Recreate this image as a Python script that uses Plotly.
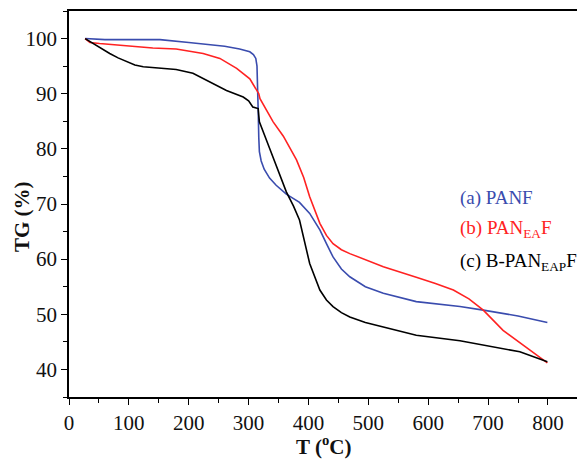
import plotly.graph_objects as go

# Temperature (°C) and TG (%)
panf_T = [27, 60, 100, 152, 200, 224, 260, 285, 302, 308, 312, 314, 315, 316, 317, 318, 321, 326, 335, 346, 363, 375, 385, 402, 419, 430, 441, 455, 469, 495, 525, 580, 653, 692, 750, 799]
panf_TG = [100, 99.8, 99.8, 99.8, 99.3, 99.0, 98.6, 98.1, 97.6, 97.1, 96.4, 95.0, 92.0, 87.0, 82.0, 79.5, 77.8, 76.3, 74.7, 73.4, 71.8, 71.0, 70.3, 68.3, 65.3, 62.8, 60.4, 58.2, 56.8, 55.0, 53.8, 52.3, 51.4, 50.75, 49.7, 48.5]

pan_ea_T = [27, 35, 51, 96, 140, 179, 224, 252, 280, 302, 317, 319, 341, 358, 380, 392, 402, 419, 430, 441, 455, 469, 525, 580, 612, 642, 668, 692, 725, 770, 799]
pan_ea_TG = [100, 99.3, 99.1, 98.7, 98.3, 98.1, 97.3, 96.4, 94.6, 92.7, 90.0, 89.1, 84.9, 82.3, 78.0, 74.8, 71.3, 66.5, 64.3, 62.8, 61.7, 61.0, 58.6, 56.7, 55.6, 54.4, 52.8, 50.75, 47.1, 43.5, 41.2]

b_pan_T = [27, 40, 55, 68, 82, 96, 110, 124, 152, 179, 207, 235, 263, 291, 300, 307, 316, 317, 318, 335, 352, 363, 375, 385, 402, 419, 430, 441, 455, 469, 495, 525, 580, 653, 692, 753, 799]
b_pan_TG = [100, 99.1, 98.2, 97.3, 96.5, 95.8, 95.2, 94.9, 94.7, 94.4, 93.7, 92.1, 90.6, 89.4, 88.7, 87.6, 87.3, 86.0, 84.9, 80.1, 75.2, 72.2, 69.6, 67.1, 59.2, 54.4, 52.6, 51.4, 50.3, 49.5, 48.5, 47.7, 46.2, 45.2, 44.4, 43.2, 41.4]

x_ticks = [0, 100, 200, 300, 400, 500, 600, 700, 800]
y_ticks = [40, 50, 60, 70, 80, 90, 100]

BLUE = "#3a4cae"
RED = "#ff2222"
BLACK = "#000000"
FONT = "Liberation Serif"

fig = go.Figure()
fig.add_trace(go.Scatter(x=panf_T, y=panf_TG, mode="lines", line=dict(color=BLUE, width=1.6), name="PANF"))
fig.add_trace(go.Scatter(x=pan_ea_T, y=pan_ea_TG, mode="lines", line=dict(color=RED, width=1.6), name="PANEAF"))
fig.add_trace(go.Scatter(x=b_pan_T, y=b_pan_TG, mode="lines", line=dict(color=BLACK, width=1.6), name="B-PANEAPF"))

axis_common = dict(showline=True, linecolor="black", linewidth=1.6, mirror=True,
                   ticks="outside", tickcolor="black", tickwidth=1.4, ticklen=6,
                   showgrid=False, zeroline=False, automargin=False,
                   tickfont=dict(family=FONT, size=21, color="#111"))

fig.update_xaxes(range=[0, 848.5], tickvals=x_ticks,
                 minor=dict(dtick=50, ticks="outside", ticklen=4, tickcolor="black", tickwidth=1.4),
                 **axis_common)
fig.update_yaxes(range=[35, 105], tickvals=y_ticks,
                 minor=dict(dtick=5, ticks="outside", ticklen=4, tickcolor="black", tickwidth=1.4),
                 **axis_common)

annotations = [
    dict(text="<b>TG (%)</b>", x=22, y=217, textangle=-90),
    dict(text="<b>T (<sup>o</sup>C)</b>", x=323, y=446),
]
ann = []
for a in annotations:
    ann.append(dict(text=a["text"], xref="paper", yref="paper",
                    x=(a["x"] - 69) / 508, y=(462 - 64.5 - a["y"]) / 387,
                    showarrow=False, textangle=a.get("textangle", 0),
                    font=dict(family=FONT, size=21, color="#111"),
                    xanchor="center", yanchor="middle"))

legend_items = [("(a) PANF", BLUE, 198), ("(b) PAN<sub>EA</sub>F", RED, 229), ("(c) B-PAN<sub>EAP</sub>F", BLACK, 262)]
for txt, col, ypx in legend_items:
    ann.append(dict(text=txt, xref="paper", yref="paper",
                    x=(458 - 69) / 508, y=(462 - 64.5 - ypx) / 387,
                    showarrow=False, xanchor="left", yanchor="middle",
                    font=dict(family=FONT, size=19, color=col)))

fig.update_layout(width=577, height=462, margin=dict(l=69, r=0, t=10.5, b=64.5, autoexpand=False),
                  plot_bgcolor="white", paper_bgcolor="white", showlegend=False,
                  annotations=ann)

fig.write_html("out.html", config={"displayModeBar": False},
               post_script="document.body.style.margin='0';document.body.style.overflow='hidden';")
